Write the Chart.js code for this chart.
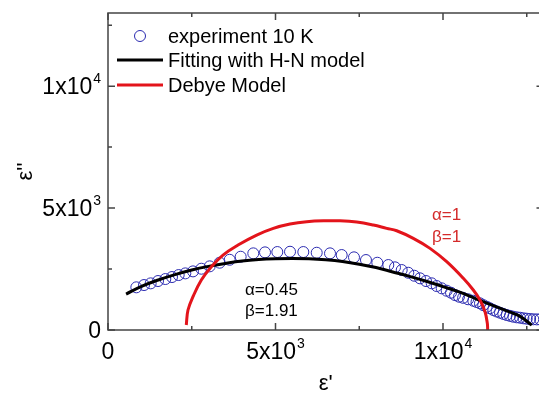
<!DOCTYPE html>
<html>
<head>
<meta charset="utf-8">
<script src="https://cdn.jsdelivr.net/npm/chart.js@4.4.0/dist/chart.umd.min.js"></script>
<style>
  html, body { margin: 0; padding: 0; background: #fff; overflow: hidden; }
  #wrap { width: 539px; height: 395px; overflow: hidden; }
</style>
</head>
<body>
<div id="wrap"><canvas id="chart" width="560" height="395"></canvas></div>
<script>
// experiment 10 K (open circles)
const expX = [846, 1075, 1274, 1493, 1711, 1910, 2110, 2308, 2537, 2786, 3035, 3333, 3632, 3960,
  4337, 4687, 5054, 5433, 5830, 6230, 6627, 6976, 7343, 7701, 8039, 8367, 8567, 8767, 8964,
  9143, 9313, 9493, 9663, 9812, 9961, 10110, 10239, 10358, 10478, 10600, 10750, 10904, 11000,
  11104, 11200, 11304, 11400, 11501, 11600, 11701, 11800, 11901, 12000, 12099, 12200, 12299,
  12400, 12499, 12600, 12696, 12800, 12900];
const expY = [1750, 1844, 1913, 2008, 2090, 2172, 2254, 2322, 2404, 2513, 2610, 2760, 2880, 3005,
  3143, 3184, 3197, 3209, 3197, 3168, 3143, 3074, 2980, 2869, 2758, 2664, 2570, 2459, 2348,
  2225, 2119, 2008, 1914, 1803, 1709, 1611, 1529, 1434, 1365, 1320, 1260, 1200, 1150,
  1094, 1020, 955, 890, 820, 760, 709, 660, 615, 580, 545, 520, 504,
  480, 463, 450, 439, 435, 435];

// Fitting with H-N model
const fitX = [540, 1000, 1500, 2000, 2500, 3000, 3500, 4000, 4500, 5000, 5500, 6000, 6500, 7000,
  7500, 8000, 8500, 9000, 9500, 10000, 10500, 11000, 11500, 12000, 12300, 12650];
const fitY = [1475, 1790, 2050, 2270, 2460, 2610, 2730, 2830, 2890, 2920, 2930, 2920, 2880, 2810,
  2700, 2560, 2380, 2200, 2000, 1780, 1550, 1270, 1000, 730, 560, 200];

// Debye Model
const debyeX = [2337, 2388, 2537, 2786, 3085, 3433, 3881, 4438, 4935, 5433, 5931, 6528, 6925,
  7424, 7920, 8319, 8618, 9113, 9612, 10110, 10606, 10904, 11104, 11254, 11323, 11334];
const debyeY = [205, 820, 1366, 2049, 2596, 3074, 3484, 3893, 4168, 4344, 4439, 4480, 4480,
  4426, 4303, 4168, 4070, 3758, 3348, 2800, 2119, 1639, 1230, 750, 275, 0];

const majorTicks = [0, 5000, 10000];
const tickBase = ['0', '5x10', '1x10'];
const tickExp = ['', '3', '4'];
const minorTicks = [2500, 7500, 12500];

const legendLabels = ['experiment 10 K', 'Fitting with H-N model', 'Debye Model'];

const toPts = (xs, ys) => xs.map((x, i) => ({ x: x, y: ys[i] }));

const FONT = '"Liberation Sans", Arial, sans-serif';
const BLUE = '#2b2bb0';
const RED = '#e3141b';

const frame = {
    id: 'frame',
    afterDraw(chart) {
        const ctx = chart.ctx;
        const a = chart.chartArea;
        const xs = chart.scales.x;
        const ys = chart.scales.y;
        ctx.save();

        // box
        ctx.strokeStyle = '#444';
        ctx.lineWidth = 1.5;
        ctx.strokeRect(a.left, a.top, a.right - a.left, a.bottom - a.top);

        // inward ticks on all four sides
        const tick = (vals, len) => {
            ctx.beginPath();
            for (const v of vals) {
                const px = xs.getPixelForValue(v);
                ctx.moveTo(px, a.bottom); ctx.lineTo(px, a.bottom - len);
                ctx.moveTo(px, a.top); ctx.lineTo(px, a.top + len);
                const py = ys.getPixelForValue(v);
                ctx.moveTo(a.left, py); ctx.lineTo(a.left + len, py);
                ctx.moveTo(a.right, py); ctx.lineTo(a.right - len, py);
            }
            ctx.stroke();
        };
        tick(majorTicks, 7);
        tick(minorTicks, 4);

        // tick labels with superscripts
        const big = '23px ' + FONT;
        const sup = '14px ' + FONT;
        ctx.fillStyle = '#000';
        ctx.textBaseline = 'alphabetic';
        majorTicks.forEach((v, i) => {
            ctx.font = big;
            const wb = ctx.measureText(tickBase[i]).width;
            ctx.font = sup;
            const we = tickExp[i] ? ctx.measureText(tickExp[i]).width + 1 : 0;
            const w = wb + we;
            // x axis
            let px = xs.getPixelForValue(v);
            let x0 = px - w / 2;
            ctx.font = big;
            ctx.textAlign = 'left';
            ctx.fillText(tickBase[i], x0, a.bottom + 29);
            if (tickExp[i]) {
                ctx.font = sup;
                ctx.fillText(tickExp[i], x0 + wb + 1, a.bottom + 18);
            }
            // y axis
            const py = ys.getPixelForValue(v);
            x0 = a.left - 7 - w;
            ctx.font = big;
            ctx.fillText(tickBase[i], x0, py + 8);
            if (tickExp[i]) {
                ctx.font = sup;
                ctx.fillText(tickExp[i], x0 + wb + 1, py - 3);
            }
        });

        // axis titles
        ctx.font = '22px ' + FONT;
        ctx.textAlign = 'center';
        ctx.fillText("\u03b5'", (a.left + a.right) / 2, 390);
        ctx.save();
        ctx.translate(32, (a.top + a.bottom) / 2);
        ctx.rotate(-Math.PI / 2);
        ctx.fillText("\u03b5''", 0, 0);
        ctx.restore();

        // legend
        ctx.font = '20px ' + FONT;
        ctx.textAlign = 'left';
        ctx.textBaseline = 'middle';
        const lx = a.left + 9, tx = a.left + 60;
        const rows = [a.top + 23, a.top + 47, a.top + 72];
        ctx.strokeStyle = BLUE;
        ctx.lineWidth = 1;
        ctx.beginPath();
        ctx.arc(a.left + 32, rows[0], 5.5, 0, Math.PI * 2);
        ctx.stroke();
        ctx.lineWidth = 3;
        ctx.strokeStyle = '#000';
        ctx.beginPath(); ctx.moveTo(lx, rows[1]); ctx.lineTo(lx + 46, rows[1]); ctx.stroke();
        ctx.strokeStyle = RED;
        ctx.beginPath(); ctx.moveTo(lx, rows[2]); ctx.lineTo(lx + 46, rows[2]); ctx.stroke();
        ctx.fillStyle = '#000';
        legendLabels.forEach((t, i) => ctx.fillText(t, tx, rows[i] + 1));

        // parameter notes
        ctx.font = '17px ' + FONT;
        ctx.fillText('\u03b1=0.45', 245, 290);
        ctx.fillText('\u03b2=1.91', 245, 311);
        ctx.fillStyle = '#d42a2a';
        ctx.fillText('\u03b1=1', 432, 215);
        ctx.fillText('\u03b2=1', 432, 237);

        ctx.restore();
    }
};

new Chart(document.getElementById('chart'), {
    type: 'scatter',
    data: {
        datasets: [{
            label: legendLabels[0],
            data: toPts(expX, expY),
            showLine: false,
            pointStyle: 'circle',
            pointRadius: 5.5,
            pointBorderWidth: 1,
            pointBorderColor: BLUE,
            pointBackgroundColor: 'rgba(0,0,0,0)',
            order: 3
        }, {
            label: legendLabels[1],
            data: toPts(fitX, fitY),
            showLine: true,
            borderColor: '#000',
            borderWidth: 3,
            pointRadius: 0,
            tension: 0.4,
            order: 2
        }, {
            label: legendLabels[2],
            data: toPts(debyeX, debyeY),
            showLine: true,
            borderColor: RED,
            borderWidth: 3,
            pointRadius: 0,
            tension: 0.4,
            order: 1
        }]
    },
    options: {
        responsive: false,
        animation: false,
        devicePixelRatio: 1,
        layout: { padding: { left: 108, top: 13, right: 16.5, bottom: 65 } },
        scales: {
            x: { type: 'linear', min: 0, max: 13000, display: false },
            y: { type: 'linear', min: 0, max: 13000, display: false }
        },
        plugins: {
            legend: { display: false },
            tooltip: { enabled: false }
        }
    },
    plugins: [frame]
});
</script>
</body>
</html>
